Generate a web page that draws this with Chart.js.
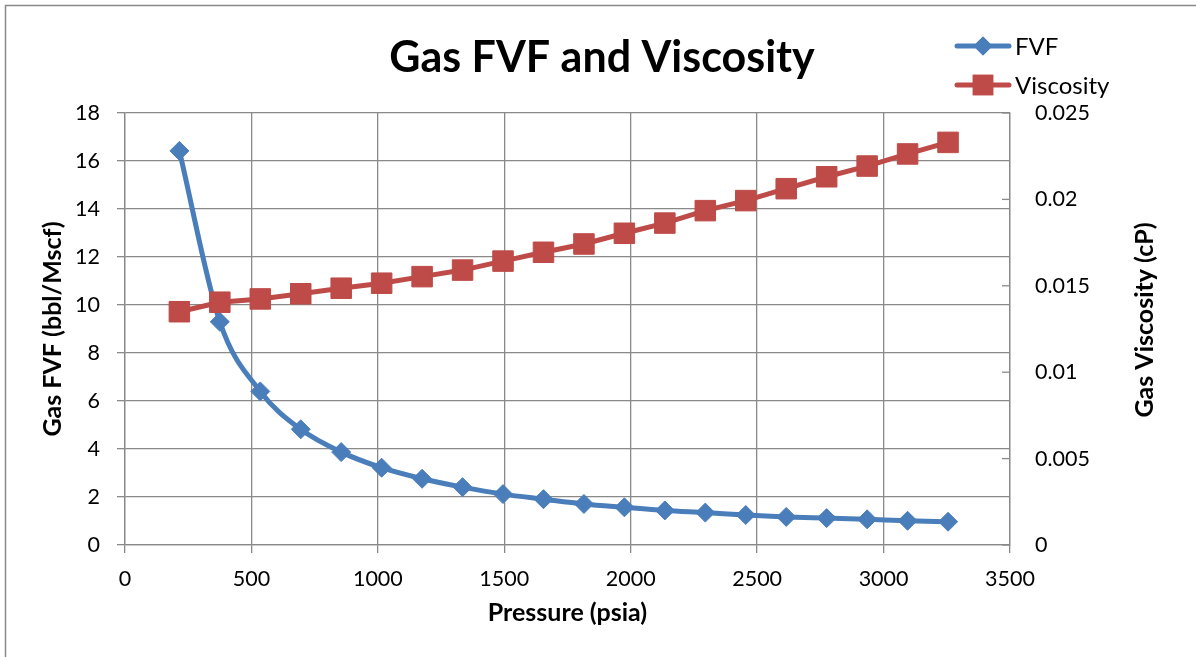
<!DOCTYPE html>
<html>
<head>
<meta charset="utf-8">
<script src="https://cdn.jsdelivr.net/npm/chart.js"></script>
<style>
  html, body { margin: 0; padding: 0; background: #fff; }
</style>
</head>
<body>
<canvas id="myChart" width="1196" height="657"></canvas>
<script>
// data
const pressure = [215, 375, 535, 695, 855, 1015, 1175, 1335, 1495, 1655,
                  1815, 1975, 2135, 2295, 2455, 2615, 2775, 2935, 3095, 3255];
const fvf = [16.42, 9.30, 6.40, 4.82, 3.87, 3.22, 2.76, 2.41, 2.12, 1.91,
             1.71, 1.57, 1.44, 1.35, 1.25, 1.17, 1.12, 1.07, 1.01, 0.97];
const viscosity = [0.01350, 0.01405, 0.01424, 0.01454, 0.01486, 0.01515, 0.01553, 0.01591, 0.01643, 0.01694,
                   0.01742, 0.01804, 0.01863, 0.01935, 0.01993, 0.02062, 0.02131, 0.02193, 0.02263, 0.02330];

const xTickValues = [0, 500, 1000, 1500, 2000, 2500, 3000, 3500];
const fvfTickValues = [0, 2, 4, 6, 8, 10, 12, 14, 16, 18];
const viscTickValues = [0, 0.005, 0.01, 0.015, 0.02, 0.025];

const BLUE = '#4a7ebb';
const RED = '#be4b48';
const GRID = '#898989';
const FONT = 'Lato';

const toPoints = (ys) => pressure.map((p, i) => ({ x: p, y: ys[i] }));
const fixTicks = (vals) => (scale) => { scale.ticks = vals.map(v => ({ value: v })); };

// title, legend, right axis title, inner ticks on right axis, outer frame
const excelBits = {
  id: 'excelBits',
  afterDraw(chart) {
    const ctx = chart.ctx;
    const area = chart.chartArea;
    ctx.save();

    // frame
    ctx.strokeStyle = GRID;
    ctx.lineWidth = 1.5;
    ctx.strokeRect(5.5, 5.5, 1210, 670);

    // right axis ticks point inward
    const y1 = chart.scales.y1;
    ctx.strokeStyle = GRID;
    ctx.lineWidth = 1.3;
    viscTickValues.forEach(v => {
      const py = y1.getPixelForValue(v);
      ctx.beginPath();
      ctx.moveTo(area.right - 8, py);
      ctx.lineTo(area.right, py);
      ctx.stroke();
    });

    // title
    ctx.fillStyle = '#000';
    ctx.font = 'bold 43px ' + FONT;
    ctx.textAlign = 'center';
    ctx.textBaseline = 'middle';
    ctx.fillText('Gas FVF and Viscosity', 602, 58);

    // right axis title, reads bottom to top
    ctx.save();
    ctx.translate(1145, 320);
    ctx.rotate(-Math.PI / 2);
    ctx.font = 'bold 25px ' + FONT;
    ctx.fillText('Gas Viscosity (cP)', 0, 0);
    ctx.restore();

    // legend
    const items = [
      { ds: chart.data.datasets[0], y: 46 },
      { ds: chart.data.datasets[1], y: 85 }
    ];
    items.forEach(it => {
      ctx.strokeStyle = it.ds.borderColor;
      ctx.lineWidth = 5;
      ctx.lineCap = 'round';
      ctx.beginPath();
      ctx.moveTo(957, it.y);
      ctx.lineTo(1009, it.y);
      ctx.stroke();
      ctx.fillStyle = it.ds.borderColor;
      Chart.helpers.drawPoint(ctx, {
        pointStyle: it.ds.pointStyle,
        radius: it.ds.pointRadius,
        rotation: 0,
        borderWidth: 0
      }, 983, it.y);
      ctx.fill();
      ctx.fillStyle = '#000';
      ctx.font = '24px ' + FONT;
      ctx.textAlign = 'left';
      ctx.fillText(it.ds.label, 1015, it.y + 1);
    });

    ctx.restore();
  }
};

new Chart(document.getElementById('myChart'), {
  type: 'line',
  data: {
    datasets: [
      {
        label: 'FVF',
        data: toPoints(fvf),
        yAxisID: 'y',
        borderColor: BLUE,
        backgroundColor: BLUE,
        pointBackgroundColor: BLUE,
        pointBorderColor: BLUE,
        borderWidth: 5,
        pointStyle: 'rectRot',
        pointRadius: 9.5,
        pointBorderWidth: 1,
        cubicInterpolationMode: 'monotone',
        order: 1
      },
      {
        label: 'Viscosity',
        data: toPoints(viscosity),
        yAxisID: 'y1',
        borderColor: RED,
        backgroundColor: RED,
        pointBackgroundColor: RED,
        pointBorderColor: RED,
        borderWidth: 5,
        pointStyle: 'rect',
        pointRadius: 14.5,
        pointBorderWidth: 1,
        tension: 0,
        order: 0
      }
    ]
  },
  options: {
    responsive: false,
    devicePixelRatio: 1,
    animation: false,
    layout: { padding: { top: 113, left: 38, right: 36, bottom: 29 } },
    plugins: {
      legend: { display: false },
      title: { display: false },
      tooltip: { enabled: false }
    },
    scales: {
      x: {
        type: 'linear',
        position: 'bottom',
        min: 0,
        max: 3500,
        afterBuildTicks: fixTicks(xTickValues),
        afterFit: (s) => { s.height = 83; },
        grid: { color: GRID, lineWidth: 1.3, tickLength: 8 },
        border: { color: GRID, width: 1.3 },
        ticks: { font: { family: FONT, size: 21.5 }, color: '#000', padding: 13, maxRotation: 0,
                 callback: (v) => String(v) },
        title: { display: true, text: 'Pressure (psia)', color: '#000', padding: 0,
                 font: { family: FONT, size: 25, weight: 'bold' } }
      },
      y: {
        position: 'left',
        min: 0,
        max: 18,
        afterBuildTicks: fixTicks(fvfTickValues),
        afterFit: (s) => { s.width = 87; },
        grid: { color: GRID, lineWidth: 1.3, tickLength: 8 },
        border: { color: GRID, width: 1.3 },
        ticks: { font: { family: FONT, size: 21.5 }, color: '#000', padding: 17,
                 callback: (v) => String(v) },
        title: { display: true, text: 'Gas FVF (bbl/Mscf)', color: '#000', padding: 0,
                 font: { family: FONT, size: 25, weight: 'bold' } }
      },
      y1: {
        position: 'right',
        min: 0,
        max: 0.025,
        afterBuildTicks: fixTicks(viscTickValues),
        afterFit: (s) => { s.width = 150; },
        grid: { drawOnChartArea: false, drawTicks: false },
        border: { color: GRID, width: 1.3 },
        ticks: { font: { family: FONT, size: 21.5 }, color: '#000', padding: 25,
                 callback: (v) => String(v) }
      }
    }
  },
  plugins: [excelBits]
});
</script>
</body>
</html>
